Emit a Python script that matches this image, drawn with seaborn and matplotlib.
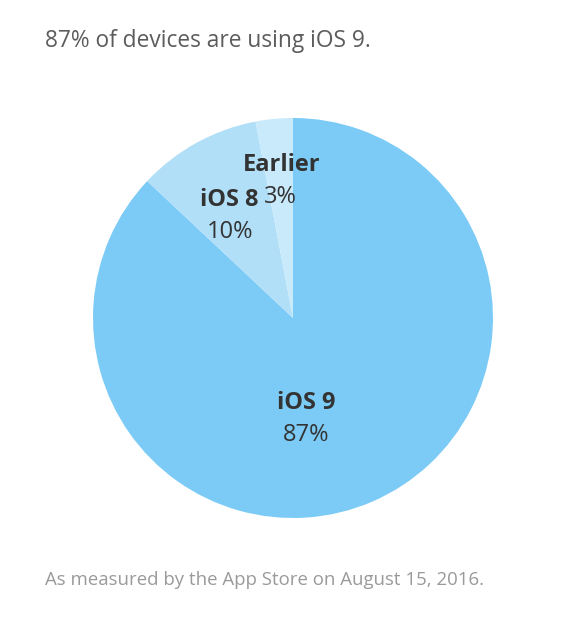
import matplotlib
matplotlib.use('Agg')
import matplotlib.pyplot as plt
import seaborn as sns

versions = ['iOS 9', 'iOS 8', 'Earlier']
shares = [87, 10, 3]
colors = ['#7ccbf7', '#b1dff8', '#c9eafb']

sns.set_theme(style='white')
plt.rcParams['font.family'] = ['Open Sans', 'DejaVu Sans']

fig = plt.figure(figsize=(5.78, 6.30), dpi=100)
fig.patch.set_facecolor('white')
ax = fig.add_axes([93/578, 112/630, 400/578, 400/630])

ax.pie(shares, colors=colors, startangle=90, counterclock=False,
       radius=1.0, wedgeprops=dict(linewidth=0))
ax.set_xlim(-1, 1)
ax.set_ylim(-1, 1)
ax.set_aspect('equal')
ax.axis('off')

# etiquetas de cada porcion
lbl = dict(ha='center', va='center', color='#333333')
ax.text(0.065, -0.425, versions[0], fontsize=17, fontweight='bold', **lbl)
ax.text(0.065, -0.585, f'{shares[0]}%', fontsize=17, **lbl)
ax.text(-0.32, 0.59, versions[1], fontsize=17, fontweight='bold', **lbl)
ax.text(-0.315, 0.43, f'{shares[1]}%', fontsize=17, **lbl)
ax.text(-0.055, 0.765, versions[2], fontsize=17, fontweight='bold', **lbl)
ax.text(-0.065, 0.605, f'{shares[2]}%', fontsize=17, **lbl)

fig.text(45/578, 1 - 41/630, '87% of devices are using iOS 9.', fontsize=16.4,
         color='#5c5c5c', ha='left', va='center')
fig.text(45/578, 1 - 580/630, 'As measured by the App Store on August 15, 2016.',
         fontsize=13.4, color='#9a9a9a', ha='left', va='center')

fig.savefig('out.png', dpi=100, facecolor='white')
